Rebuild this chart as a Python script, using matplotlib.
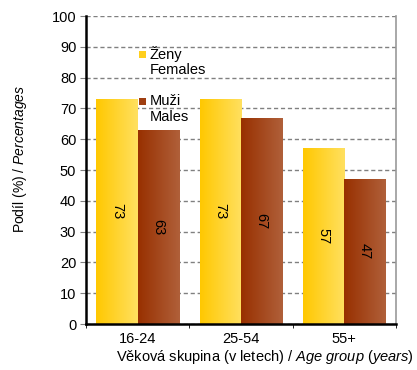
import numpy as np
import matplotlib
matplotlib.use("Agg")
import matplotlib.pyplot as plt
from matplotlib.colors import LinearSegmentedColormap
from matplotlib.patches import Rectangle

categories = ["16-24", "25-54", "55+"]
females = [73, 73, 57]
males = [63, 67, 47]
labels_f = ["Ženy", "Females"]
labels_m = ["Muži", "Males"]

plt.rcParams['font.family'] = ['Liberation Sans', 'DejaVu Sans']
plt.rcParams['mathtext.fontset'] = 'custom'
plt.rcParams['mathtext.rm'] = 'Liberation Sans'
plt.rcParams['mathtext.it'] = 'Liberation Sans:italic'

fig = plt.figure(figsize=(4.17, 3.70), dpi=100)
ax = fig.add_axes([86/417, 1-324/370, 310/417, 308/370])

cmap_f = LinearSegmentedColormap.from_list("f", ["#FFC800", "#FFE060"])
cmap_m = LinearSegmentedColormap.from_list("m", ["#983000", "#B0603A"])

x = np.arange(len(categories))
w = 0.4
bf = ax.bar(x - w/2, females, w, color='none', edgecolor='none', zorder=2)
bm = ax.bar(x + w/2, males, w, color='none', edgecolor='none', zorder=2)

grad = np.linspace(0, 1, 256).reshape(1, -1)
for bars, cm in ((bf, cmap_f), (bm, cmap_m)):
    for b in bars:
        x0, y0 = b.get_x(), b.get_y()
        im = ax.imshow(grad, cmap=cm, aspect='auto', zorder=2,
                       extent=[x0, x0 + b.get_width(), y0, y0 + b.get_height()])
        im.set_clip_path(b)

for bars, vals in ((bf, females), (bm, males)):
    for b, v in zip(bars, vals):
        ax.text(b.get_x() + b.get_width()/2, v/2, f"{v}", rotation=270,
                ha='center', va='center', fontsize=10.5, zorder=3)

ax.set_xlim(-0.5, 2.5)
ax.set_ylim(0, 100)
ax.set_yticks(np.arange(0, 101, 10))
ax.set_xticks(x)
ax.set_xticklabels(categories, fontsize=10.5)
ax.set_xticks([-0.5, 0.5, 1.5, 2.5], minor=True)
ax.tick_params(axis='x', which='major', length=0, pad=6)
ax.tick_params(axis='x', which='minor', length=3, direction='out', color='black')
ax.tick_params(axis='y', length=4, color='#808080', labelsize=10.5, pad=3)
ax.yaxis.grid(True, color='#808080', linestyle=(0, (3, 2)), linewidth=1)
ax.set_axisbelow(True)

for s in ('left', 'bottom'):
    ax.spines[s].set_linewidth(1.8)
    ax.spines[s].set_color('black')
ax.spines['top'].set_visible(False)
ax.spines['right'].set_color('#999999')
ax.spines['right'].set_linewidth(1.2)

# legend (manual)
for yi, (lab, cm) in enumerate(((labels_f, cmap_f), (labels_m, cmap_m))):
    ty = 51/370 if yi == 0 else 98/370
    fig.patches.append(Rectangle((139/417, 1 - ty - 7/370), 7/417, 7/370,
                                 transform=fig.transFigure,
                                 facecolor=cm(0.3), edgecolor='none'))
    fig.text(150/417, 1 - 54/370 if yi == 0 else 1 - 101/370, lab[0], fontsize=10.5, va='center')
    fig.text(150/417, 1 - 70/370 if yi == 0 else 1 - 117/370, lab[1], fontsize=10.5, va='center')

fig.text(20/417, 1 - 159/370, r"Podíl (%) / $\it{Percentages}$", rotation=90,
         ha='center', va='center', fontsize=10)
fig.text(265/417, 1 - 357/370, r"Věková skupina (v letech) / $\it{Age\ group\ (years)}$",
         ha='center', va='center', fontsize=10.5)

fig.savefig("out.png", dpi=100)
